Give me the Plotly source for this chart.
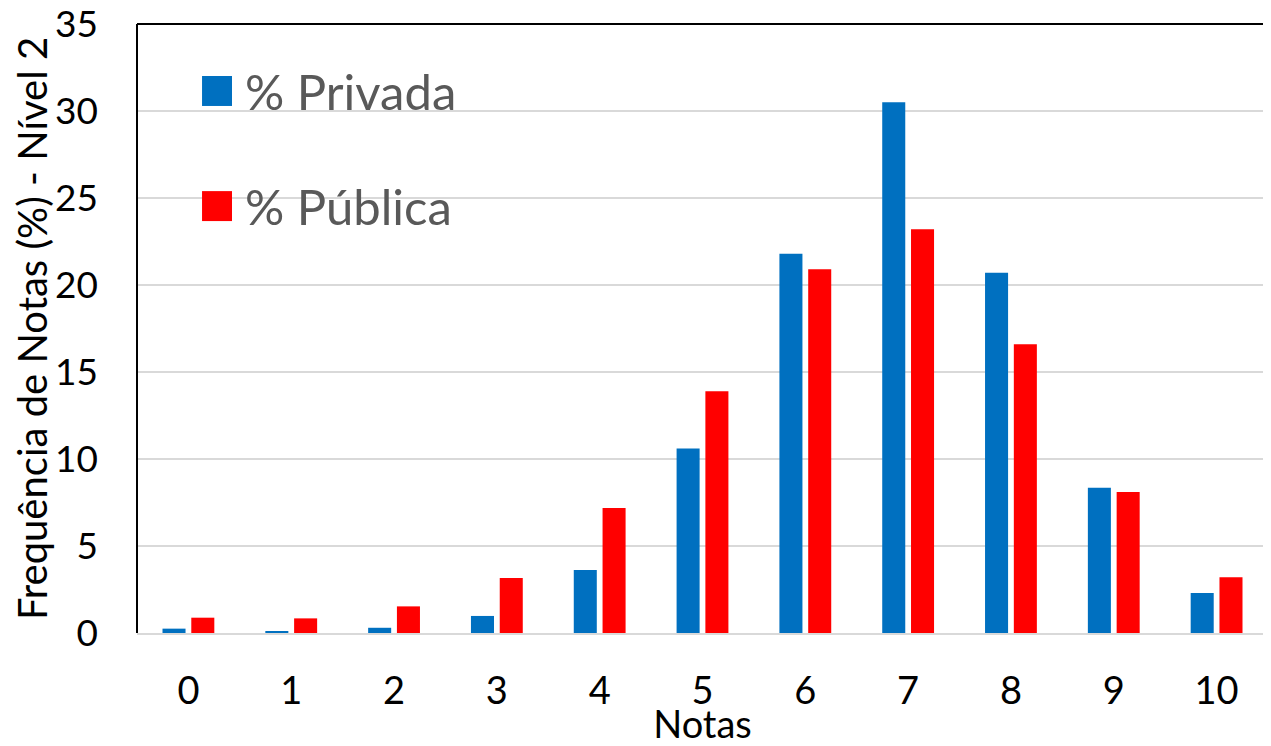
import plotly.graph_objects as go

notas = ["0", "1", "2", "3", "4", "5", "6", "7", "8", "9", "10"]
privada = [0.25, 0.1, 0.3, 0.98, 3.62, 10.6, 21.8, 30.5, 20.7, 8.35, 2.3]
publica = [0.88, 0.84, 1.53, 3.16, 7.18, 13.9, 20.9, 23.2, 16.6, 8.1, 3.2]

BLUE = "#0070C0"
RED = "#FF0000"
FONT = "Lato"

fig = go.Figure()
fig.add_trace(go.Bar(x=notas, y=privada, name="% Privada", marker_color=BLUE,
                     marker_line_width=0))
fig.add_trace(go.Bar(x=notas, y=publica, name="% Pública", marker_color=RED,
                     marker_line_width=0))

# the page puts the figure 8px in from the top-left corner
fig.update_layout(
    width=1263, height=738,
    margin=dict(l=129, r=3, t=16, b=113),
    paper_bgcolor="white", plot_bgcolor="white",
    barmode="group", bargap=0.44, bargroupgap=0.2,
    showlegend=False,
    font=dict(family=FONT, color="black"),
)

fig.update_xaxes(
    type="category", automargin=False,
    showgrid=False,
    showline=True, linecolor="#D9D9D9", linewidth=2,
    ticks="", tickfont=dict(size=38, family=FONT),
    ticklabelstandoff=23,
    title=dict(text="Notas", font=dict(size=38, family=FONT), standoff=3),
)
fig.update_yaxes(
    range=[0, 35], dtick=5, automargin=False,
    showgrid=True, gridcolor="#D9D9D9", gridwidth=2,
    zeroline=False,
    ticks="", tickfont=dict(size=37, family=FONT),
    ticklabelstandoff=38, ticklabeloverflow="allow",
    title=dict(text="Frequência de Notas (%) - Nível 2",
               font=dict(size=40, family=FONT), standoff=12),
)

# plot frame: left, top, right in black
for x0, y0, x1, y1 in [(0, 0, 0, 1), (0, 1, 1, 1), (1, 0, 1, 1)]:
    fig.add_shape(type="line", xref="paper", yref="paper",
                  x0=x0, y0=y0, x1=x1, y1=y1,
                  line=dict(color="black", width=2), layer="above")

# legend box drawn by hand so the swatches can be large
fig.add_shape(type="rect", xref="paper", yref="paper",
              x0=0.002, x1=0.311, y0=0.63, y1=0.998,
              fillcolor="white", line_width=0, layer="between")
legend_items = [("% Privada", BLUE, 0.890), ("% Pública", RED, 0.701)]
for label, color, yc in legend_items:
    fig.add_shape(type="rect", xref="paper", yref="paper",
                  x0=0.0575, x1=0.084, y0=yc - 0.0246, y1=yc + 0.0246,
                  fillcolor=color, line_width=0, layer="above")
    fig.add_annotation(xref="paper", yref="paper", x=0.094, y=yc,
                       text=label, showarrow=False, xanchor="left",
                       yanchor="middle",
                       font=dict(size=49, family=FONT, color="#595959"))

fig.write_html("out.html")
